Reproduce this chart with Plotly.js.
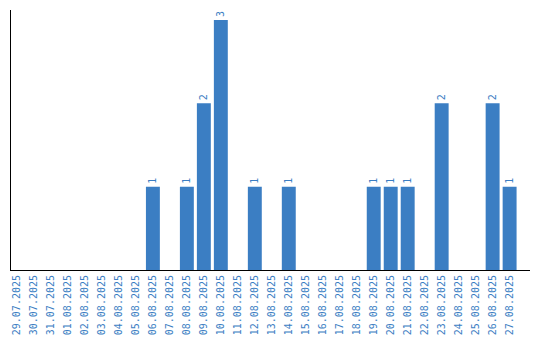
<!DOCTYPE html>
<html>
<head>
<meta charset="utf-8">
<script src="https://cdn.plot.ly/plotly-3.0.1.min.js"></script>
<style>html,body{margin:0;padding:0;background:#fff;}#chart{width:540px;height:340px;}</style>
</head>
<body>
<div id="chart"></div>
<script>
const dates = ["29.07.2025","30.07.2025","31.07.2025","01.08.2025","02.08.2025","03.08.2025","04.08.2025","05.08.2025","06.08.2025","07.08.2025","08.08.2025","09.08.2025","10.08.2025","11.08.2025","12.08.2025","13.08.2025","14.08.2025","15.08.2025","16.08.2025","17.08.2025","18.08.2025","19.08.2025","20.08.2025","21.08.2025","22.08.2025","23.08.2025","24.08.2025","25.08.2025","26.08.2025","27.08.2025"];
const counts = [0,0,0,0,0,0,0,0,1,0,1,2,3,0,1,0,1,0,0,0,0,1,1,1,0,2,0,0,2,1];
const labels = counts.map(v => v > 0 ? String(v) : "");
const blue = "#3b7ec3";
const font = {family: "DejaVu Sans Mono, monospace", size: 10, color: blue};

Plotly.newPlot("chart", [{
  type: "bar",
  x: dates,
  y: counts,
  text: labels,
  textposition: "outside",
  textangle: -90,
  textfont: font,
  cliponaxis: false,
  marker: {color: blue},
  hoverinfo: "none"
}], {
  width: 540, height: 340,
  margin: {l: 11, r: 10, t: 10, b: 70},
  paper_bgcolor: "#fff", plot_bgcolor: "#fff",
  bargap: 0.18,
  showlegend: false,
  font: font,
  xaxis: {
    type: "category",
    range: [-0.353, 30.2],
    tickangle: -90,
    tickfont: font,
    showgrid: false, zeroline: false,
    showline: true, linecolor: "#000", linewidth: 1,
    ticks: "", automargin: false
  },
  yaxis: {
    range: [0, 3.12],
    showticklabels: false, showgrid: false, zeroline: false,
    showline: true, linecolor: "#000", linewidth: 1,
    ticks: ""
  }
}, {staticPlot: true});
</script>
</body>
</html>
